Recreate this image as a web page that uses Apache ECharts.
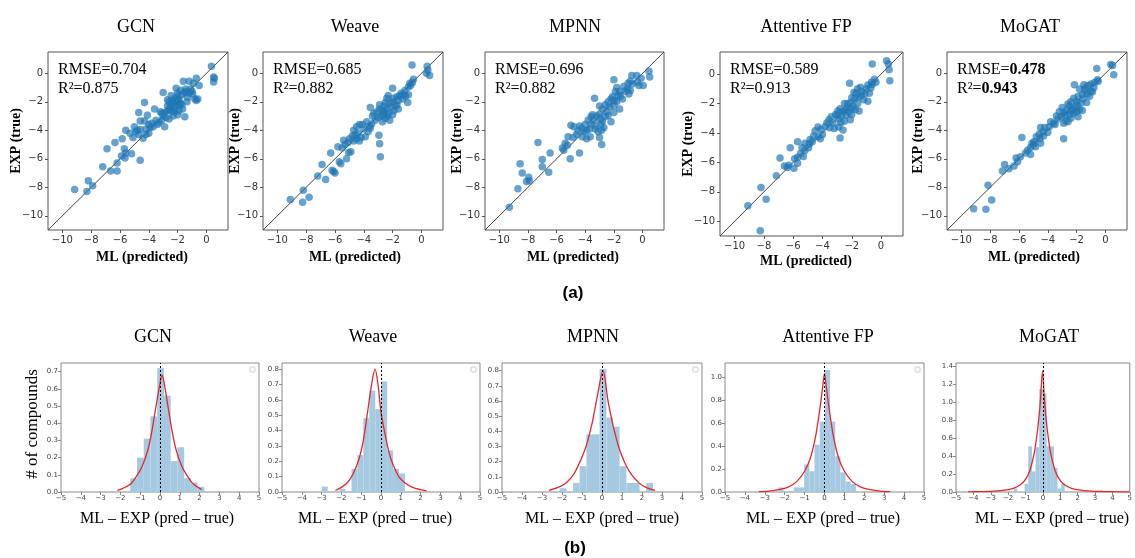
<!DOCTYPE html>
<html><head><meta charset="utf-8">
<script src="https://cdn.jsdelivr.net/npm/echarts@6/dist/echarts.min.js"></script>
<style>html,body{margin:0;padding:0;background:#fff}#c{width:1135px;height:558px}</style>
</head><body><div id="c"></div>
<script>
const models = ['GCN','Weave','MPNN','Attentive FP','MoGAT'];
const rmseVals = ['0.704','0.685','0.696','0.589','0.478'];
const r2Vals = ['0.875','0.882','0.882','0.913','0.943'];
const scatterTicks = [-10,-8,-6,-4,-2,0];
const diagLine = [[-11,-11],[1.5,1.5]];
const histXTicks = [-5,-4,-3,-2,-1,0,1,2,3,4,5];

const scatterGCN = [[0.35,0.5],[0.5,-0.25],[0.55,-0.35],[0.5,-0.6],[-1.6,-0.55],[-1.2,-0.55],[-0.7,-0.35],[-0.5,-0.85],[-0.9,-0.7],[-2.1,-1.05],[-1.8,-1.2],[-1.45,-1.1],[-1.1,-1.1],[-0.95,-1.45],[-0.6,-1.8],[-0.8,-1.8],[-1.3,-1.7],[-1.5,-1.35],[-1.7,-1.5],[-2.0,-1.4],[-3.0,-1.35],[-2.45,-1.55],[-2.2,-1.75],[-2.0,-1.9],[-1.8,-2.1],[-2.6,-2.0],[-2.3,-2.1],[-2.1,-2.3],[-2.5,-2.4],[-2.2,-2.5],[-1.65,-2.5],[-1.9,-2.65],[-2.4,-2.7],[-2.7,-2.6],[-2.9,-2.75],[-3.1,-2.8],[-2.0,-2.9],[-1.5,-3.05],[-2.3,-3.0],[-2.8,-3.1],[-3.6,-2.5],[-4.3,-2.05],[-3.1,-3.3],[-2.9,-3.75],[-3.4,-3.6],[-3.7,-3.75],[-4.1,-2.95],[-4.7,-2.75],[-4.6,-3.35],[-4.3,-3.35],[-4.0,-3.6],[-3.9,-3.8],[-4.2,-3.9],[-5.0,-3.75],[-4.9,-4.1],[-4.6,-3.95],[-4.7,-4.3],[-4.2,-4.3],[-4.4,-4.55],[-5.3,-4.2],[-5.6,-4.0],[-6.35,-4.85],[-5.85,-4.6],[-6.9,-5.3],[-5.7,-5.3],[-5.6,-5.6],[-5.65,-5.95],[-5.9,-5.8],[-5.2,-5.65],[-4.6,-6.1],[-6.2,-6.3],[-7.2,-6.55],[-6.65,-6.85],[-6.2,-6.85],[-8.2,-7.55],[-7.9,-7.9],[-9.15,-8.15],[-8.3,-8.3],[-3.5,-3.3],[-3.3,-3.45],[-2.5,-2.2],[-2.7,-2.3],[-1.9,-2.2],[-2.0,-1.6],[-1.4,-1.3],[-1.2,-1.4],[-1.0,-1.25],[-2.7,-1.85],[-2.4,-1.9],[-2.2,-2.0],[-1.7,-2.2],[-2.55,-2.55],[-2.2,-2.7],[-3.2,-2.7],[-3.0,-3.0],[-2.6,-3.2],[-1.9,-1.85],[-0.7,-1.9],[-1.35,-2.0],[-4.8,-4.0],[-5.1,-4.5],[-4.0,-4.2],[-3.8,-3.5]];
const scatterWeave = [[-0.65,0.58],[0.4,0.5],[0.45,0.22],[0.57,-0.15],[0.35,0.0],[-0.55,-0.42],[-0.62,-0.65],[-0.75,-0.85],[-0.9,-0.95],[-2.0,-1.05],[-1.15,-1.2],[-1.4,-1.4],[-1.5,-1.55],[-1.7,-1.65],[-1.95,-1.75],[-2.3,-1.55],[-2.4,-1.75],[-2.0,-2.0],[-2.2,-2.1],[-1.7,-2.2],[-0.95,-2.05],[-1.3,-1.8],[-1.1,-1.6],[-1.6,-1.9],[-2.6,-2.3],[-2.9,-2.5],[-3.1,-2.7],[-2.7,-2.6],[-2.4,-2.5],[-2.1,-2.4],[-1.9,-2.6],[-1.6,-2.5],[-2.3,-2.8],[-2.6,-2.9],[-2.8,-3.0],[-3.0,-3.1],[-2.5,-3.15],[-2.0,-2.9],[-2.2,-3.3],[-3.2,-3.3],[-2.7,-3.4],[-3.55,-2.4],[-2.95,-4.35],[-2.9,-4.95],[-2.85,-5.85],[-3.6,-3.7],[-3.55,-3.85],[-4.3,-3.6],[-4.1,-3.6],[-4.5,-3.75],[-4.0,-3.9],[-4.7,-4.0],[-4.4,-4.2],[-4.2,-4.5],[-4.5,-4.6],[-4.8,-4.4],[-5.0,-4.6],[-5.4,-4.7],[-5.1,-4.85],[-4.7,-4.75],[-3.9,-4.45],[-3.7,-4.1],[-5.3,-5.0],[-6.3,-5.6],[-5.8,-5.15],[-4.9,-5.5],[-5.05,-5.55],[-5.2,-6.0],[-5.7,-6.2],[-5.6,-6.35],[-6.2,-6.8],[-6.1,-6.9],[-6.0,-7.0],[-6.9,-6.4],[-7.2,-7.2],[-6.65,-7.45],[-8.2,-8.2],[-7.8,-8.7],[-8.25,-9.05],[-9.1,-8.85],[-3.4,-3.0],[-3.3,-2.8],[-2.5,-2.05],[-1.8,-2.3],[-2.9,-2.2],[-1.2,-1.5],[-0.9,-1.5],[-0.8,-0.7],[-2.6,-2.7],[-2.35,-3.0],[-3.45,-3.55],[-4.6,-4.3],[-4.3,-4.75],[-5.5,-5.25],[-3.8,-3.4]];
const scatterMPNN = [[0.45,0.15],[0.5,-0.25],[-0.75,-0.15],[-0.4,-0.15],[-0.1,-0.35],[-0.25,-0.85],[0.05,-0.85],[-0.7,-0.75],[-0.85,-0.55],[-2.0,-0.45],[-1.3,-0.9],[-1.05,-1.1],[-0.85,-1.2],[-0.95,-1.45],[-1.55,-1.6],[-1.8,-1.0],[-1.9,-1.3],[-3.35,-1.75],[-2.2,-1.8],[-2.4,-2.0],[-2.0,-2.25],[-1.8,-2.0],[-2.8,-2.5],[-2.5,-2.7],[-2.6,-3.05],[-2.8,-3.35],[-3.0,-2.85],[-3.2,-3.0],[-2.0,-2.75],[-1.6,-2.5],[-1.4,-1.8],[-2.3,-2.35],[-2.95,-3.2],[-3.4,-3.3],[-3.6,-3.55],[-3.25,-3.7],[-2.7,-3.8],[-3.1,-4.1],[-2.85,-4.0],[-2.85,-5.0],[-3.6,-3.05],[-3.8,-3.3],[-4.0,-3.6],[-4.4,-3.7],[-4.5,-4.05],[-4.05,-4.1],[-4.2,-4.45],[-3.9,-4.6],[-3.65,-4.45],[-4.8,-3.75],[-5.0,-3.65],[-4.25,-3.85],[-5.2,-4.45],[-5.25,-5.05],[-4.85,-4.5],[-4.4,-5.6],[-5.05,-6.0],[-5.5,-5.4],[-5.6,-5.25],[-5.4,-4.9],[-7.3,-4.85],[-6.45,-5.6],[-7.0,-6.05],[-7.0,-6.55],[-6.55,-6.95],[-8.55,-6.35],[-8.4,-7.0],[-7.95,-7.3],[-8.1,-7.6],[-7.9,-7.55],[-8.7,-8.1],[-9.3,-9.4],[-1.2,-1.25],[-1.6,-1.25],[-2.1,-1.65],[-2.6,-2.2],[-3.0,-2.3],[-2.4,-2.95],[-3.3,-3.9],[-3.5,-2.9],[-2.9,-3.55],[-1.95,-1.9],[-1.0,-0.7],[-0.35,-0.6],[-3.9,-4.0],[-4.6,-4.3],[-3.0,-4.5],[-2.2,-3.4],[-1.7,-1.5],[-3.7,-3.9]];
const scatterAttentive = [[-0.6,0.68],[0.38,0.9],[0.5,0.68],[0.55,0.3],[0.6,-0.45],[-0.65,-0.55],[-0.45,-0.35],[-0.35,-0.55],[-0.9,-0.75],[-2.15,-0.62],[-1.4,-0.9],[-1.6,-1.0],[-1.3,-1.2],[-1.85,-1.25],[-1.1,-1.35],[-0.8,-1.3],[-2.0,-1.6],[-1.5,-1.55],[-1.2,-1.75],[-0.9,-1.85],[-1.6,-2.0],[-2.5,-2.0],[-2.1,-1.95],[-1.9,-2.2],[-2.3,-2.3],[-2.8,-2.35],[-2.95,-2.5],[-2.6,-2.55],[-2.2,-2.6],[-1.75,-2.4],[-1.5,-2.5],[-2.0,-2.75],[-2.4,-2.8],[-2.7,-2.85],[-3.1,-2.75],[-2.9,-3.05],[-2.1,-3.1],[-2.5,-3.2],[-3.55,-3.1],[-2.8,-4.35],[-2.6,-3.8],[-2.9,-3.6],[-3.3,-3.3],[-3.5,-3.65],[-3.8,-3.55],[-4.3,-3.6],[-4.1,-3.75],[-4.0,-4.1],[-4.5,-3.85],[-4.3,-4.25],[-4.6,-4.2],[-4.85,-4.45],[-4.9,-4.75],[-5.2,-4.7],[-4.95,-5.0],[-5.2,-5.2],[-5.5,-5.4],[-5.7,-4.6],[-6.2,-5.0],[-5.7,-5.65],[-5.9,-5.75],[-5.7,-6.05],[-5.95,-6.4],[-6.9,-5.7],[-6.6,-6.25],[-6.4,-6.35],[-7.15,-6.9],[-8.2,-7.7],[-7.85,-8.5],[-9.1,-8.95],[-8.25,-10.65],[-1.0,-1.0],[-1.8,-1.7],[-2.3,-2.0],[-2.0,-2.35],[-3.4,-2.9],[-3.7,-3.3],[-4.7,-4.6],[-5.4,-5.0],[-6.3,-6.2],[-3.0,-2.8],[-2.45,-2.45],[-1.7,-1.3],[-1.35,-1.45],[-0.7,-0.95],[-0.6,-0.7],[-4.15,-4.4],[-3.2,-3.7],[-2.75,-3.3],[-5.3,-5.6]];
const scatterMoGAT = [[-0.6,0.35],[0.37,0.62],[0.5,0.55],[0.58,-0.1],[-0.5,-0.55],[-0.75,-0.65],[-1.0,-0.75],[-1.2,-0.85],[-1.5,-0.8],[-2.15,-0.8],[-1.8,-1.1],[-1.4,-1.05],[-1.25,-1.45],[-1.6,-1.5],[-1.9,-1.6],[-2.2,-1.75],[-1.55,-1.8],[-1.3,-2.05],[-1.7,-2.1],[-2.0,-2.0],[-2.5,-2.3],[-2.3,-2.5],[-2.05,-2.45],[-1.8,-2.55],[-2.7,-2.6],[-2.9,-2.75],[-2.5,-2.9],[-2.2,-2.8],[-1.9,-3.05],[-2.4,-3.15],[-2.75,-3.35],[-3.05,-3.05],[-3.3,-3.2],[-2.9,-3.5],[-2.9,-4.6],[-3.6,-3.5],[-3.9,-3.75],[-4.2,-3.8],[-4.5,-3.8],[-4.35,-4.1],[-4.0,-4.15],[-4.6,-4.25],[-4.8,-4.45],[-4.55,-4.6],[-4.95,-4.8],[-5.1,-4.9],[-4.85,-5.15],[-5.2,-5.2],[-5.8,-4.5],[-5.4,-5.4],[-5.55,-5.6],[-5.9,-5.85],[-6.2,-5.95],[-6.35,-6.5],[-7.0,-6.4],[-7.15,-6.85],[-6.7,-6.7],[-8.15,-7.85],[-7.9,-8.9],[-9.15,-9.5],[-8.3,-9.55],[-1.0,-1.25],[-0.8,-1.0],[-1.1,-1.6],[-2.4,-2.0],[-2.6,-2.15],[-3.2,-2.7],[-3.0,-2.4],[-2.0,-2.7],[-1.6,-2.6],[-3.5,-3.6],[-3.8,-3.4],[-4.3,-4.4],[-5.0,-5.0],[-4.5,-4.9],[-2.6,-3.4],[-2.35,-2.65],[-1.95,-2.25],[-3.4,-3.0],[-0.9,-1.3],[-2.8,-2.95],[-1.45,-1.2],[-0.55,-0.45],[-6.1,-6.2],[-5.2,-5.7]];

// histogram bins: [left, right, density]
const histGCN = [[-1.5,-1.16,0.08],[-1.16,-0.82,0.2],[-0.82,-0.48,0.31],[-0.48,-0.14,0.44],[-0.14,0.2,0.72],[0.2,0.54,0.56],[0.54,0.88,0.18],[0.88,1.22,0.26],[1.22,1.56,0.08],[1.56,1.9,0.055],[1.9,2.24,0.03]];
const histWeave = [[-2.99,-2.69,0.035],[-2.09,-1.79,0.02],[-1.49,-1.19,0.15],[-1.19,-0.89,0.24],[-0.89,-0.59,0.48],[-0.59,-0.29,0.66],[-0.29,0.01,0.54],[0.01,0.31,0.72],[0.31,0.61,0.27],[0.61,0.91,0.15],[0.91,1.21,0.12]];
const histMPNN = [[-2.12,-1.78,0.025],[-1.45,-1.12,0.06],[-1.12,-0.78,0.17],[-0.78,-0.45,0.38],[-0.45,-0.12,0.38],[-0.12,0.22,0.81],[0.22,0.55,0.49],[0.55,0.88,0.43],[0.88,1.22,0.17],[1.22,1.55,0.06],[1.55,1.88,0.06],[2.21,2.55,0.06]];
const histAttentive = [[-2.32,-2.06,0.04],[-1.54,-1.28,0.04],[-1.28,-1.02,0.04],[-1.02,-0.76,0.24],[-0.76,-0.5,0.18],[-0.5,-0.24,0.41],[-0.24,0.02,0.61],[0.02,0.28,1.06],[0.28,0.54,0.61],[0.54,0.8,0.31],[0.8,1.06,0.17],[1.06,1.32,0.09],[1.32,1.58,0.07]];
const histMoGAT = [[-1.68,-1.47,0.04],[-1.05,-0.84,0.09],[-0.84,-0.63,0.51],[-0.63,-0.42,0.23],[-0.42,-0.21,0.5],[-0.21,0.0,1.15],[0.0,0.21,1.1],[0.21,0.42,0.51],[0.42,0.63,0.51],[0.63,0.84,0.27],[0.84,1.05,0.04],[1.05,1.26,0.09]];

// fitted curves: [x, density]
const curveGCN = [[-2.15,0.01],[-1.9,0.02],[-1.5,0.045],[-1.2,0.09],[-0.9,0.15],[-0.6,0.25],[-0.4,0.36],[-0.2,0.5],[0,0.63],[0.1,0.68],[0.2,0.64],[0.4,0.5],[0.6,0.36],[0.8,0.25],[1.1,0.15],[1.4,0.09],[1.7,0.045],[2.1,0.015]];
const curveWeave = [[-2.3,0.01],[-2.0,0.03],[-1.7,0.06],[-1.4,0.12],[-1.1,0.22],[-0.9,0.33],[-0.7,0.5],[-0.5,0.68],[-0.3,0.8],[-0.15,0.7],[0,0.52],[0.2,0.38],[0.4,0.26],[0.6,0.18],[0.9,0.1],[1.2,0.06],[1.6,0.03],[2.0,0.015],[2.3,0.008]];
const curveMPNN = [[-2.65,0.01],[-2.2,0.03],[-1.8,0.06],[-1.4,0.12],[-1.1,0.2],[-0.8,0.3],[-0.5,0.45],[-0.25,0.62],[0.05,0.8],[0.3,0.6],[0.55,0.44],[0.85,0.29],[1.15,0.19],[1.45,0.12],[1.85,0.06],[2.2,0.03],[2.65,0.01]];
const curveAttentive = [[-3.3,0.003],[-2.8,0.008],[-2.3,0.02],[-1.8,0.045],[-1.4,0.09],[-1.0,0.18],[-0.7,0.3],[-0.45,0.48],[-0.25,0.7],[-0.1,0.9],[0,1.03],[0.1,0.9],[0.25,0.7],[0.45,0.48],[0.7,0.3],[1.0,0.18],[1.4,0.09],[1.8,0.045],[2.3,0.02],[2.8,0.008],[3.3,0.003]];
const curveMoGAT = [[-4.3,0.002],[-3.5,0.005],[-2.8,0.01],[-2.2,0.02],[-1.7,0.04],[-1.3,0.08],[-1.0,0.14],[-0.75,0.24],[-0.5,0.43],[-0.3,0.7],[-0.15,1.0],[-0.02,1.35],[0.1,1.0],[0.25,0.7],[0.45,0.43],[0.7,0.24],[0.95,0.14],[1.25,0.08],[1.65,0.04],[2.15,0.02],[2.75,0.01],[3.5,0.005],[4.3,0.002],[5.0,0.001]];

const histYTicksGCN = [0,0.1,0.2,0.3,0.4,0.5,0.6,0.7];
const histYTicksWeave = [0,0.1,0.2,0.3,0.4,0.5,0.6,0.7,0.8];
const histYTicksMPNN = [0,0.1,0.2,0.3,0.4,0.5,0.6,0.7,0.8];
const histYTicksAttentive = [0,0.2,0.4,0.6,0.8,1.0];
const histYTicksMoGAT = [0,0.2,0.4,0.6,0.8,1.0,1.2,1.4];
const histYMax = [0.75,0.84,0.85,1.12,1.44];

const scatters = [scatterGCN,scatterWeave,scatterMPNN,scatterAttentive,scatterMoGAT];
const hists = [histGCN,histWeave,histMPNN,histAttentive,histMoGAT];
const curves = [curveGCN,curveWeave,curveMPNN,curveAttentive,curveMoGAT];
const histYTicks = [histYTicksGCN,histYTicksWeave,histYTicksMPNN,histYTicksAttentive,histYTicksMoGAT];

// layout
const topGrids = [[48,52,180,178],[263,52,180,178],[485,52,179,178],[720,52,183,184],[947,52,180,178]];
const botGrids = [[61,363,198,129],[282,363,198,129],[502,363,200,129],[725,363,199,129],[956,363,197,129]];
const topTitleX = [136,355,575,806,1030];
const topXLabelX = [142,355,573,806,1034];
const topXLabelY = [257,257,257,261,257];
const topYLabelX = [16,235,457,688,918];
const botTitleX = [153,373,593,828,1049];
const botXLabelX = [157,375,602,823,1052];

const SERIF = '"Liberation Serif","Times New Roman",serif';
const minus = v => (v < 0 ? '\u2212' : '') + Math.abs(v);

const grid = [], xAxis = [], yAxis = [], series = [], graphic = [];

function T(x, y, text, size, bold, rot, align) {
  return {type:'text', x, y, rotation: rot || 0, silent:true,
    style:{text, font:(bold?'bold ':'') + size + 'px ' + SERIF, fill:'#000',
      align: align || 'center', verticalAlign:'middle', textAlign: align || 'center', textVerticalAlign:'middle'}};
}

for (let i = 0; i < 5; i++) {
  const g = topGrids[i];
  grid.push({left:g[0], top:g[1], width:g[2], height:g[3], show:true, borderColor:'#555', borderWidth:1, backgroundColor:'transparent'});
  xAxis.push({gridIndex:i, type:'value', position:'bottom', min:-11, max:1.5, splitLine:{show:false}, axisLine:{show:false, onZero:false},
    axisTick:{show:true, length:3, customValues:scatterTicks, lineStyle:{color:'#555'}},
    axisLabel:{customValues:scatterTicks, fontSize:10, color:'#333', fontFamily:'DejaVu Sans', margin:5, formatter:minus}});
  yAxis.push({gridIndex:i, type:'value', position:'left', min:-11, max:1.5, splitLine:{show:false}, axisLine:{show:false, onZero:false},
    axisTick:{show:true, length:3, customValues:scatterTicks, lineStyle:{color:'#555'}},
    axisLabel:{customValues:scatterTicks, fontSize:10, color:'#333', fontFamily:'DejaVu Sans', margin:5, formatter:minus}});
  series.push({type:'line', xAxisIndex:i, yAxisIndex:i, data:diagLine, symbol:'none', silent:true,
    lineStyle:{color:'#444', width:1}, z:1});
  series.push({type:'scatter', xAxisIndex:i, yAxisIndex:i, data:scatters[i], symbolSize:7.5,
    itemStyle:{color:'rgba(31,119,180,0.85)'}, z:2});
  const cy = g[1] + g[3] / 2;
  graphic.push(T(topTitleX[i], 27, models[i], 18));
  graphic.push(T(topXLabelX[i], topXLabelY[i], 'ML (predicted)', 14, true));
  graphic.push(T(topYLabelX[i], cy, 'EXP (true)', 14, true, Math.PI / 2));
  if (i === 4) {
    graphic.push({type:'text', x:g[0] + 10, y:70, silent:true, style:{text:'{n|RMSE=}{b|' + rmseVals[i] + '}',
      verticalAlign:'middle', textVerticalAlign:'middle',
      rich:{n:{font:'16px ' + SERIF, fill:'#000'}, b:{font:'bold 16px ' + SERIF, fill:'#000'}}}});
    graphic.push({type:'text', x:g[0] + 10, y:89, silent:true, style:{text:'{n|R\u00b2=}{b|' + r2Vals[i] + '}',
      verticalAlign:'middle', textVerticalAlign:'middle',
      rich:{n:{font:'16px ' + SERIF, fill:'#000'}, b:{font:'bold 16px ' + SERIF, fill:'#000'}}}});
  } else {
    graphic.push(T(g[0] + 10, 70, 'RMSE=' + rmseVals[i], 16, false, 0, 'left'));
    graphic.push(T(g[0] + 10, 89, 'R\u00b2=' + r2Vals[i], 16, false, 0, 'left'));
  }
}

for (let i = 0; i < 5; i++) {
  const g = botGrids[i], k = i + 5;
  grid.push({left:g[0], top:g[1], width:g[2], height:g[3], show:true, borderColor:'#888', borderWidth:1, backgroundColor:'transparent'});
  xAxis.push({gridIndex:k, type:'value', position:'bottom', min:-5, max:5, splitLine:{show:false}, axisLine:{show:false, onZero:false},
    axisTick:{show:true, length:3, customValues:histXTicks, lineStyle:{color:'#888'}},
    axisLabel:{customValues:histXTicks, fontSize:7, color:'#444', fontFamily:'DejaVu Sans', margin:3, formatter:minus}});
  yAxis.push({gridIndex:k, type:'value', position:'left', min:0, max:histYMax[i], splitLine:{show:false}, axisLine:{show:false, onZero:false},
    axisTick:{show:true, length:3, customValues:histYTicks[i], lineStyle:{color:'#888'}},
    axisLabel:{customValues:histYTicks[i], fontSize:7, color:'#444', fontFamily:'DejaVu Sans', margin:3, formatter:v => v.toFixed(1)}});
  series.push({type:'custom', xAxisIndex:k, yAxisIndex:k, data:hists[i], encode:{x:[0,1], y:2},
    renderItem:(params, api) => {
      const p0 = api.coord([api.value(0), api.value(2)]);
      const p1 = api.coord([api.value(1), 0]);
      return {type:'rect', shape:{x:p0[0], y:p0[1], width:p1[0] - p0[0], height:p1[1] - p0[1]},
        style:{fill:'#a5c9e1'}};
    }, z:1});
  series.push({type:'line', xAxisIndex:k, yAxisIndex:k, data:curves[i], smooth:0.3, symbol:'none', silent:true,
    lineStyle:{color:'#e8262a', width:1.3}, z:3,
    markLine:{silent:true, symbol:'none', label:{show:false}, lineStyle:{color:'#000', type:[2,2], width:1},
      data:[{xAxis:0}]}});
  graphic.push(T(botTitleX[i], 337, models[i], 18));
  graphic.push(T(botXLabelX[i], 519, 'ML \u2013 EXP (pred \u2013 true)', 16));
  graphic.push({type:'rect', silent:true, shape:{x:g[0] + g[2] - 9, y:g[1] + 4, width:5, height:5, r:1},
    style:{fill:'#fff', stroke:'#ccc', lineWidth:1}});
}
graphic.push(T(33, 424, '# of compounds', 17, false, Math.PI / 2));
graphic.push({type:'text', x:573, y:293, silent:true, style:{text:'(a)', font:'bold 17px "Liberation Sans",Arial,sans-serif', fill:'#000', align:'center', verticalAlign:'middle'}});
graphic.push({type:'text', x:575, y:548, silent:true, style:{text:'(b)', font:'bold 17px "Liberation Sans",Arial,sans-serif', fill:'#000', align:'center', verticalAlign:'middle'}});

const chart = echarts.init(document.getElementById('c'), null, {renderer:'canvas'});
chart.setOption({animation:false, backgroundColor:'#fff', grid, xAxis, yAxis, series, graphic});
</script>
</body></html>
